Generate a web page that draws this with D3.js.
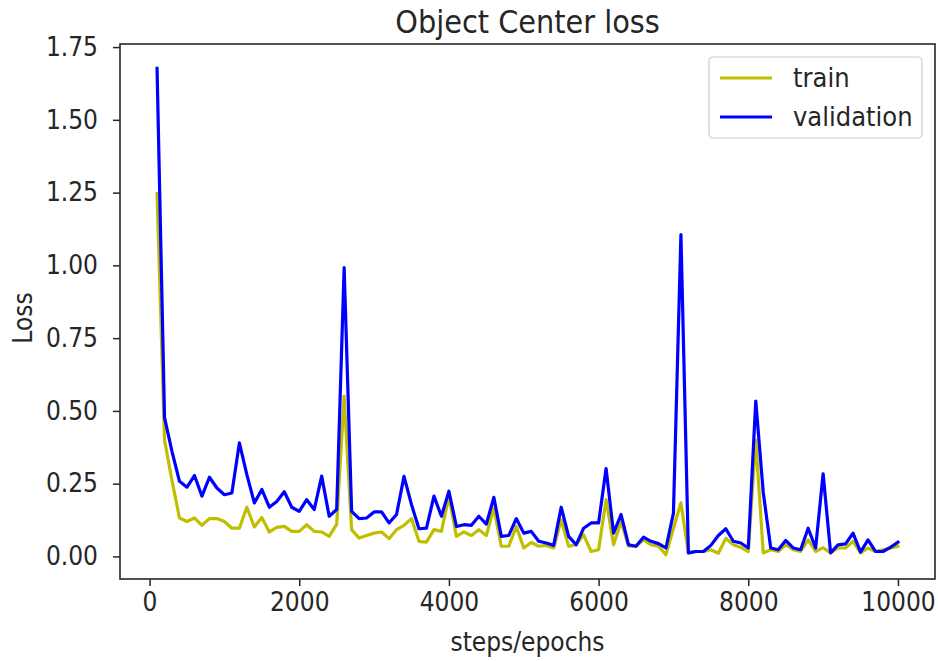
<!DOCTYPE html>
<html>
<head>
<meta charset="utf-8">
<script src="https://cdn.jsdelivr.net/npm/d3@7"></script>
<style>
  body { margin: 0; background: white; }
  text { font-family: "DejaVu Sans Condensed", "DejaVu Sans", sans-serif; font-stretch: condensed; fill: #262626; }
</style>
</head>
<body>
<div id="canvas"></div>
<script>
const width = 938;
const height = 661;

// steps 100 .. 10000
const steps = d3.range(100, 10001, 100);

const trainLoss = [
    1.247, 0.40, 0.26, 0.132, 0.120, 0.132, 0.107, 0.13, 0.13, 0.12,
    0.097, 0.097, 0.169, 0.101, 0.134, 0.084, 0.100, 0.103, 0.086, 0.086,
    0.109, 0.086, 0.084, 0.069, 0.11, 0.551, 0.092, 0.063, 0.072, 0.080,
    0.084, 0.061, 0.092, 0.107, 0.130, 0.052, 0.049, 0.092, 0.086, 0.207,
    0.069, 0.084, 0.072, 0.092, 0.072, 0.166, 0.035, 0.035, 0.103, 0.029,
    0.048, 0.035, 0.038, 0.029, 0.126, 0.035, 0.040, 0.074, 0.017, 0.023,
    0.195, 0.040, 0.120, 0.035, 0.035, 0.057, 0.040, 0.035, 0.006, 0.097,
    0.184, 0.012, 0.017, 0.017, 0.023, 0.011, 0.062, 0.040, 0.031, 0.017,
    0.40, 0.012, 0.023, 0.017, 0.040, 0.023, 0.017, 0.057, 0.017, 0.03,
    0.012, 0.029, 0.029, 0.052, 0.012, 0.029, 0.017, 0.023, 0.029, 0.035
];

const validationLoss = [
    1.677, 0.477, 0.36, 0.258, 0.238, 0.278, 0.207, 0.272, 0.235, 0.212,
    0.218, 0.390, 0.281, 0.184, 0.230, 0.169, 0.189, 0.222, 0.169, 0.155,
    0.195, 0.161, 0.276, 0.138, 0.161, 0.992, 0.155, 0.130, 0.132, 0.153,
    0.153, 0.115, 0.144, 0.275, 0.178, 0.095, 0.097, 0.207, 0.138, 0.224,
    0.103, 0.109, 0.107, 0.138, 0.111, 0.203, 0.069, 0.072, 0.130, 0.080,
    0.086, 0.052, 0.046, 0.038, 0.169, 0.069, 0.040, 0.097, 0.115, 0.115,
    0.302, 0.080, 0.144, 0.040, 0.035, 0.066, 0.052, 0.044, 0.029, 0.149,
    1.106, 0.012, 0.017, 0.017, 0.038, 0.072, 0.095, 0.052, 0.046, 0.029,
    0.534, 0.22, 0.029, 0.023, 0.055, 0.029, 0.023, 0.097, 0.029, 0.284,
    0.012, 0.040, 0.043, 0.080, 0.015, 0.057, 0.017, 0.017, 0.031, 0.049
];

const xTicks = [0, 2000, 4000, 6000, 8000, 10000];
const yTicks = [0, 0.25, 0.5, 0.75, 1.0, 1.25, 1.5, 1.75];

const seriesNames = ["train", "validation"];
const seriesColors = ["#bfbf00", "#0000ff"];

const margin = {top: 44, right: 3, bottom: 82, left: 120};
const plotW = width - margin.left - margin.right;
const plotH = height - margin.top - margin.bottom;

const svg = d3.select("#canvas")
    .append("svg")
    .attr("width", width)
    .attr("height", height);

svg.append("rect")
    .attr("width", width)
    .attr("height", height)
    .attr("fill", "white");

// matplotlib style 5% margins
const xMin = d3.min(steps), xMax = d3.max(steps);
const xPad = (xMax - xMin) * 0.05;
const allY = trainLoss.concat(validationLoss);
const yMin = d3.min(allY), yMax = d3.max(allY);
const yPad = (yMax - yMin) * 0.05;

const x = d3.scaleLinear()
    .domain([xMin - xPad, xMax + xPad])
    .range([0, plotW]);

const y = d3.scaleLinear()
    .domain([yMin - yPad, yMax + yPad])
    .range([plotH, 0]);

const g = svg.append("g")
    .attr("transform", `translate(${margin.left},${margin.top})`);

// axes
const xAxis = g.append("g")
    .attr("transform", `translate(0,${plotH})`)
    .call(d3.axisBottom(x).tickValues(xTicks).tickFormat(d3.format("d")).tickSize(7).tickPadding(7));

const yAxis = g.append("g")
    .call(d3.axisLeft(y).tickValues(yTicks).tickFormat(d3.format(".2f")).tickSize(7).tickPadding(15));

[xAxis, yAxis].forEach(function(a) {
    a.select(".domain").remove();
    a.selectAll("line").attr("stroke", "#262626").attr("stroke-width", 1.5);
    a.selectAll("text")
        .attr("font-size", 26)
        .attr("fill", "#262626")
        .style("font-family", "'DejaVu Sans Condensed', 'DejaVu Sans', sans-serif");
});

// lines
let lineGen = d3.line()
    .x((d, i) => x(steps[i]))
    .y(d => y(d));

[trainLoss, validationLoss].forEach(function(series, k) {
    g.append("path")
        .datum(series)
        .attr("fill", "none")
        .attr("stroke", seriesColors[k])
        .attr("stroke-width", 3.2)
        .attr("stroke-linejoin", "round")
        .attr("stroke-linecap", "square")
        .attr("d", lineGen);
});

// frame
g.append("rect")
    .attr("width", plotW)
    .attr("height", plotH)
    .attr("fill", "none")
    .attr("stroke", "#262626")
    .attr("stroke-width", 1.6);

// legend
const legend = svg.append("g")
    .attr("transform", "translate(709,57)");

legend.append("rect")
    .attr("width", 213)
    .attr("height", 81)
    .attr("rx", 4)
    .attr("fill", "white")
    .attr("fill-opacity", 0.8)
    .attr("stroke", "#cccccc")
    .attr("stroke-width", 1.2);

for (let i = 0; i < seriesNames.length; i++) {
    let ly = 21 + i * 39;
    legend.append("line")
        .attr("x1", 11)
        .attr("x2", 63)
        .attr("y1", ly)
        .attr("y2", ly)
        .attr("stroke", seriesColors[i])
        .attr("stroke-width", 3.2);
    legend.append("text")
        .attr("x", 84)
        .attr("y", ly + 9)
        .attr("font-size", 27)
        .text(seriesNames[i]);
}

// title and axis labels
svg.append("text")
    .attr("x", margin.left + plotW / 2)
    .attr("y", 33)
    .attr("text-anchor", "middle")
    .attr("font-size", 32)
    .text("Object Center loss");

svg.append("text")
    .attr("x", margin.left + plotW / 2)
    .attr("y", 651)
    .attr("text-anchor", "middle")
    .attr("font-size", 26)
    .text("steps/epochs");

svg.append("text")
    .attr("transform", `translate(32,318) rotate(-90)`)
    .attr("text-anchor", "middle")
    .attr("font-size", 26)
    .text("Loss");
</script>
</body>
</html>
